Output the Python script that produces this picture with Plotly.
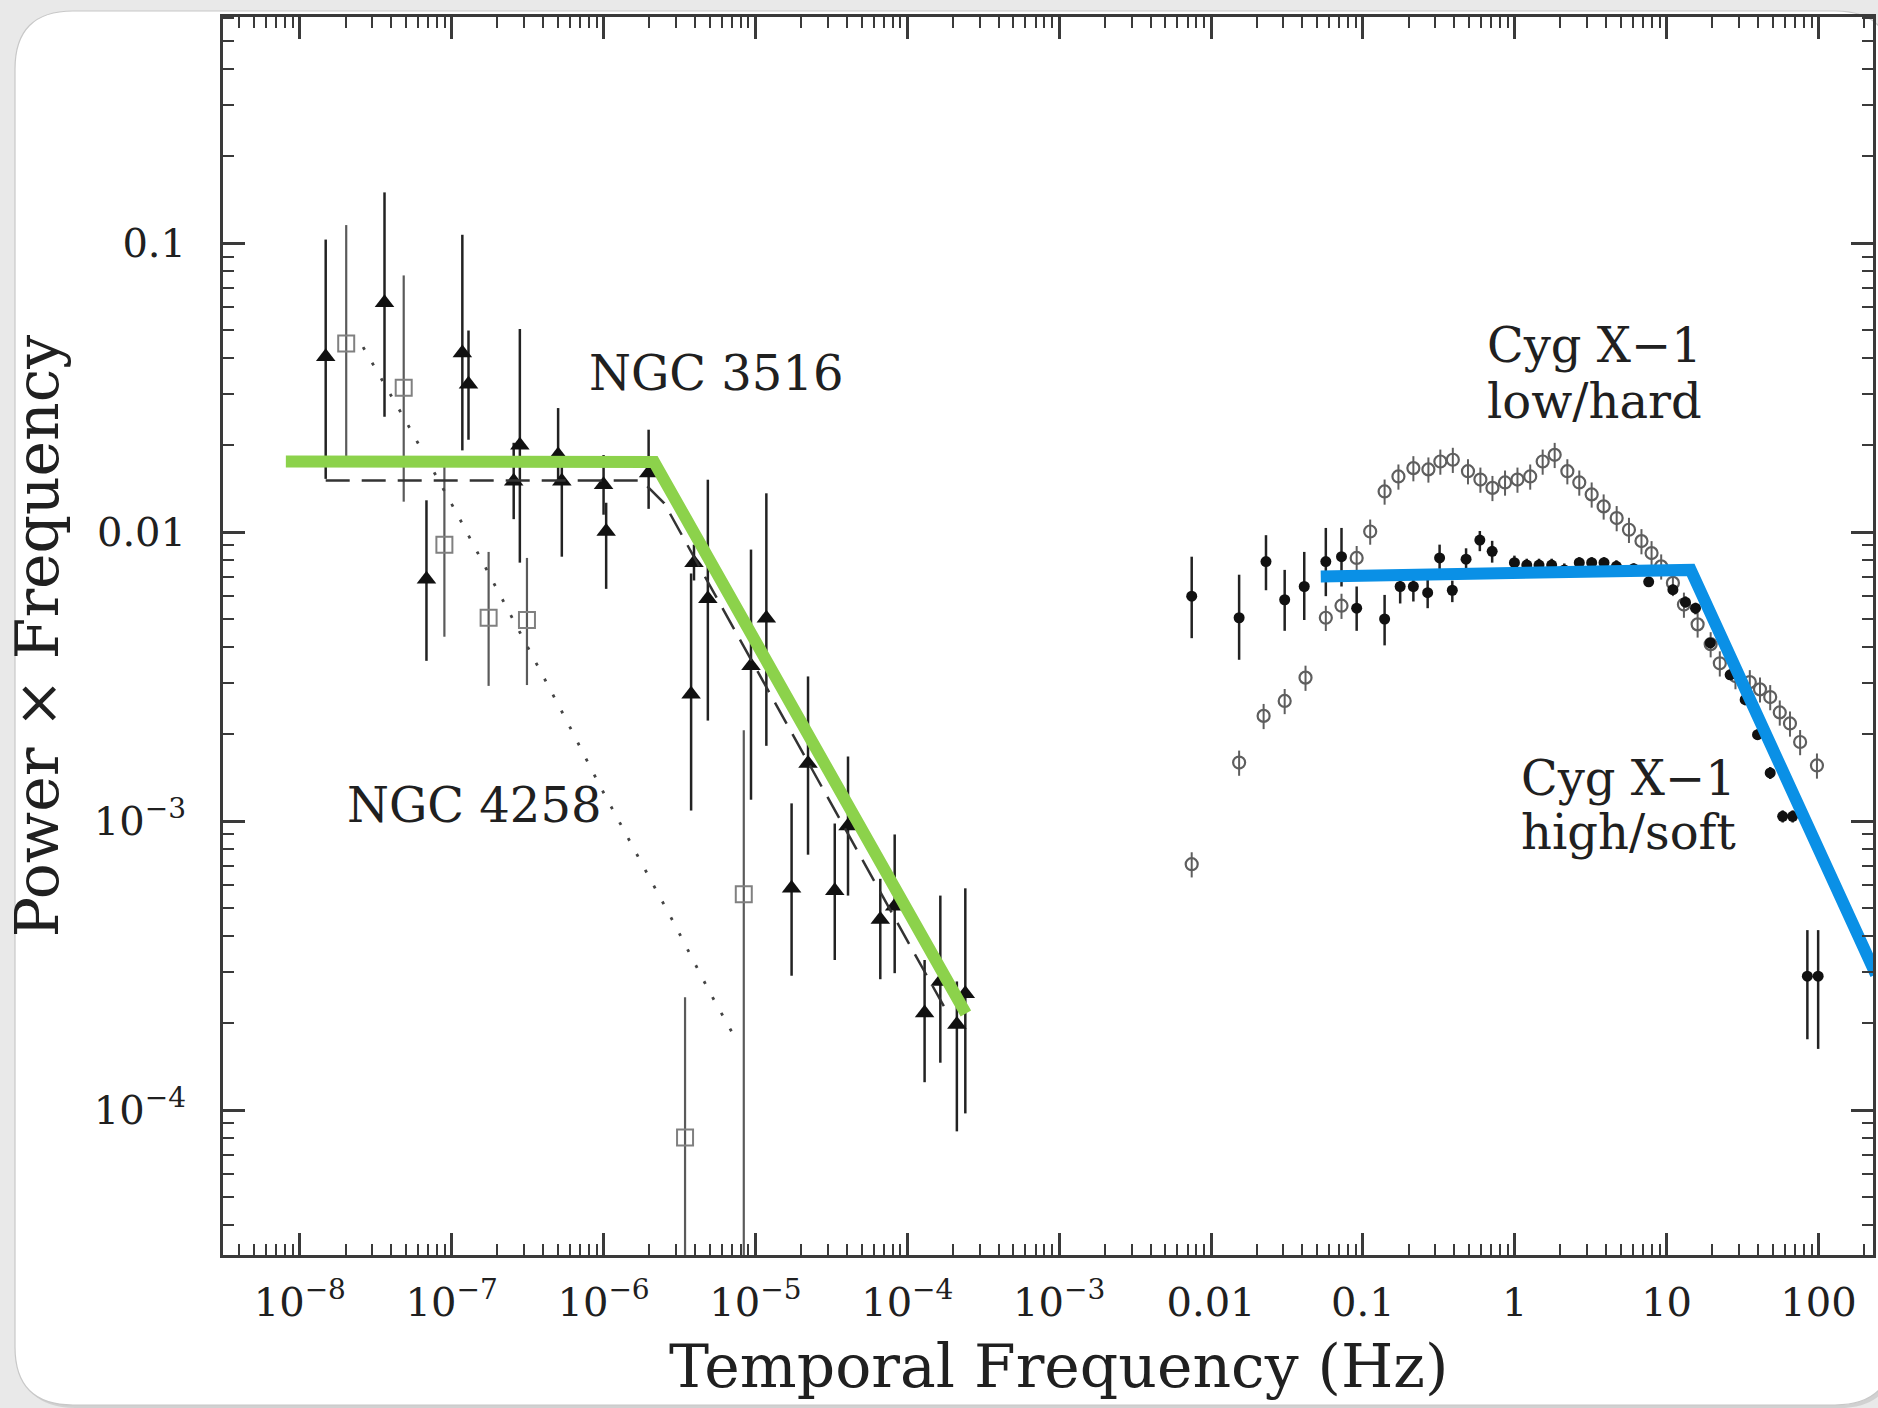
import numpy as np
import plotly.graph_objects as go

# ---------------- data ----------------
# NGC 3516 (filled triangles)
n3516_f = [1.48e-8, 3.61e-8, 6.82e-8, 1.175e-7, 1.29e-7, 2.56e-7, 2.81e-7, 5.02e-7, 5.31e-7,
           1.0e-6, 1.04e-6, 1.98e-6, 3.94e-6, 3.77e-6, 4.86e-6, 9.35e-6, 1.18e-5, 2.22e-5,
           1.73e-5, 3.33e-5, 4.07e-5, 6.64e-5, 8.26e-5, 1.30e-4, 1.65e-4, 2.12e-4, 2.41e-4]
n3516_p = [0.0405, 0.0622, 0.00687, 0.0417, 0.0325, 0.0150, 0.0200, 0.0185, 0.0150,
           0.01459, 0.01006, 0.01605, 0.00785, 0.002748, 0.00589, 0.003455, 0.00504, 0.001585,
           0.000586, 0.000575, 0.000963, 0.000457, 0.000508, 0.000217, 0.000279, 0.000198, 0.000253]
n3516_hi = [0.103, 0.150, 0.0129, 0.107, 0.0499, 0.0204, 0.0505, 0.0269, 0.0185,
            0.0185, 0.01265, 0.02264, 0.00906, 0.0072, 0.0152, 0.00871, 0.01364, 0.00317,
            0.001153, 0.000982, 0.001675, 0.000632, 0.0009, 0.000331, 0.000553, 0.000279, 0.000586]
n3516_lo = [0.0153, 0.0251, 0.00359, 0.0192, 0.0209, 0.0111, 0.00785, 0.0153, 0.00823,
            0.0115, 0.00637, 0.01205, 0.00681, 0.001089, 0.00223, 0.001187, 0.001824, 0.000766,
            0.000292, 0.000331, 0.000553, 0.000284, 0.000298, 0.000125, 0.000146, 8.45e-5, 9.75e-5]

# NGC 4258 (open squares)
n4258_f = [2.02e-8, 4.83e-8, 8.95e-8, 1.75e-7, 3.13e-7, 3.44e-6, 8.38e-6]
n4258_p = [0.045, 0.0316, 0.00906, 0.00506, 0.00497, 8.05e-5, 0.000559]
n4258_hi = [0.1156, 0.0774, 0.01799, 0.00855, 0.00815, 0.000246, 0.002065]
n4258_lo = [0.01782, 0.01276, 0.00435, 0.00294, 0.00296, 1e-6, 1e-6]

# model curves
model3516_f = [1.48e-8, 1.78e-6, 2.51e-6, 3.98e-6, 1.74e-4]
model3516_p = [0.0151, 0.0151, 0.0126, 0.00813, 0.000229]
model4258_f = [2.61e-8, 5.01e-8, 1.094e-7, 1.888e-7, 3.25e-7, 5.61e-7, 9.5e-7, 1.667e-6,
               2.93e-6, 4.96e-6, 7.2e-6]
model4258_p = [0.0437, 0.02415, 0.01148, 0.00667, 0.00391, 0.00227, 0.00132, 0.000767,
               0.000441, 0.000258, 0.0001815]

# overlaid broken power laws
green_f = [8.09e-9, 2.15e-6, 2.43e-4]
green_p = [0.01758, 0.0175, 0.000216]
blue_f = [0.0528, 14.4, 239.0]
blue_p = [0.00703, 0.00741, 0.000295]

# Cyg X-1 high/soft (filled circles)
hs_f = [0.00746, 0.01531, 0.02301, 0.03055, 0.0411, 0.0570, 0.0723, 0.0910, 0.139, 0.176,
        0.215, 0.267, 0.320, 0.388, 0.478, 0.589, 0.710, 0.995, 1.20, 1.445,
        1.75, 2.12, 2.66, 3.21, 3.87, 4.67, 6.07, 7.62, 11.0, 13.3,
        15.5, 19.4, 26.2, 32.9, 39.7, 48.1, 58.1, 67.6, 84.5, 99.5]
hs_p = [0.00601, 0.00506, 0.00792, 0.00584, 0.00649, 0.00792, 0.00823, 0.00546, 0.00501, 0.00649,
        0.00649, 0.00618, 0.00815, 0.0063, 0.00807, 0.0094, 0.00859, 0.00785, 0.0077, 0.0077,
        0.0077, 0.00741, 0.00785, 0.00785, 0.00785, 0.00762, 0.00748, 0.00674, 0.00633, 0.00573,
        0.00546, 0.00414, 0.00321, 0.002634, 0.001993, 0.001469, 0.00104, 0.00104, 0.000291, 0.000291]
hs_hi = [0.00823, 0.00713, 0.00977, 0.00741, 0.00855, 0.01035, 0.01035, 0.00649, 0.00607, 0.00741,
         0.00727, 0.0070, 0.00906, 0.0068, 0.0088, 0.0101, 0.00934, 0.0083, 0.0081, 0.0081,
         0.0081, 0.0078, 0.0082, 0.0082, 0.0082, 0.0080, 0.0078, 0.0070, 0.0066, 0.0060,
         0.0057, 0.0043, 0.00335, 0.00275, 0.00208, 0.00154, 0.00109, 0.00109, 0.00042, 0.00042]
hs_lo = [0.0043, 0.00362, 0.0063, 0.00456, 0.00497, 0.00601, 0.00649, 0.00456, 0.00406, 0.00567,
         0.00576, 0.00546, 0.00741, 0.00573, 0.00741, 0.0086, 0.00785, 0.0075, 0.0073, 0.0073,
         0.0073, 0.0071, 0.0075, 0.0075, 0.0075, 0.0073, 0.0072, 0.0065, 0.0061, 0.0055,
         0.0052, 0.0040, 0.0031, 0.00252, 0.00191, 0.00140, 0.00099, 0.00099, 0.000176, 0.000163]

# Cyg X-1 low/hard (open circles)
lh_f = [0.00746, 0.01531, 0.0222, 0.03055, 0.0419, 0.0570, 0.0723, 0.0910, 0.1117, 0.139,
        0.1714, 0.215, 0.270, 0.3236, 0.391, 0.492, 0.594, 0.713, 0.863, 1.042,
        1.264, 1.527, 1.832, 2.22, 2.66, 3.21, 3.85, 4.69, 5.65, 6.83,
        7.96, 9.21, 11.0, 13.0, 16.0, 19.5, 22.4, 28.4, 35.3, 41.2,
        48.1, 55.6, 64.9, 75.7, 97.7]
lh_p = [0.00071, 0.001596, 0.002315, 0.002608, 0.00314, 0.00506, 0.00557, 0.00815, 0.01006, 0.01384,
        0.0156, 0.01667, 0.0165, 0.01757, 0.01782, 0.01627, 0.01522, 0.01424, 0.01487, 0.01522,
        0.0156, 0.01757, 0.01853, 0.01627, 0.01487, 0.01352, 0.01229, 0.0112, 0.0102, 0.00932,
        0.00847, 0.00762, 0.00668, 0.00562, 0.0048, 0.0041, 0.00352, 0.00318, 0.00303, 0.00286,
        0.00269, 0.00238, 0.00218, 0.00188, 0.00156]

# axis ticks
x_tick_vals = [1e-8, 1e-7, 1e-6, 1e-5, 1e-4, 1e-3, 0.01, 0.1, 1, 10, 100]
x_tick_text = ["10<sup>\u22128</sup>", "10<sup>\u22127</sup>", "10<sup>\u22126</sup>",
               "10<sup>\u22125</sup>", "10<sup>\u22124</sup>", "10<sup>\u22123</sup>",
               "0.01", "0.1", "1", "10", "100"]
y_tick_vals = [1e-4, 1e-3, 0.01, 0.1]
y_tick_text = ["10<sup>\u22124</sup>", "10<sup>\u22123</sup>", "0.01", "0.1"]

# text labels (left edge, vertical centre)
labels = ["NGC 3516", "NGC 4258", "Cyg X\u22121", "low/hard", "Cyg X\u22121", "high/soft"]
label_f = [7.76e-7, 1.99e-8, 0.638, 0.638, 1.068, 1.068]
label_p = [0.0357, 0.00114, 0.0446, 0.02844, 0.00141, 0.000918]

x_title = "Temporal Frequency (Hz)"
y_title = "Power \u00d7 Frequency"

# ---------------- figure ----------------
W, H = 1878, 1408
L, R, T, B = 223, 1873, 17, 1255
X_RANGE = [-8.506, 2.359]
Y_RANGE = [-4.501, -0.217]
PAGE_BG = "#e9e9e9"

def px(x):
    return (x - L) / (R - L)

def py(y):
    return 1 - (y - T) / (B - T)

def rounded(x0, y0, x1, y1, r):
    pts = [("M", x0 + r, y0), ("L", x1 - r, y0), ("Q", x1, y0, x1, y0 + r),
           ("L", x1, y1 - r), ("Q", x1, y1, x1 - r, y1), ("L", x0 + r, y1),
           ("Q", x0, y1, x0, y1 - r), ("L", x0, y0 + r), ("Q", x0, y0, x0 + r, y0)]
    s = ""
    for p in pts:
        cmd = p[0]
        coords = p[1:]
        parts = []
        for i in range(0, len(coords), 2):
            parts.append(f"{px(coords[i]):.5f},{py(coords[i+1]):.5f}")
        s += cmd + " " + " ".join(parts) + " "
    return s + "Z"

def err(p, hi, lo):
    p = np.array(p); hi = np.array(hi); lo = np.array(lo)
    return hi - p, p - lo

fig = go.Figure()

AX = "#3a3a3a"
TXT = "#202020"

# NGC 4258 squares
up, dn = err(n4258_p, n4258_hi, n4258_lo)
fig.add_trace(go.Scatter(
    x=n4258_f, y=n4258_p, mode="markers",
    marker=dict(symbol="square-open", size=16, color="#808080", line=dict(width=2, color="#808080")),
    error_y=dict(type="data", array=up, arrayminus=dn, color="#5a5a5a", thickness=2.2, width=0),
))

# NGC 3516 triangles
up, dn = err(n3516_p, n3516_hi, n3516_lo)
fig.add_trace(go.Scatter(
    x=n3516_f, y=n3516_p, mode="markers",
    marker=dict(symbol="triangle-up", size=17, color="#111111"),
    error_y=dict(type="data", array=up, arrayminus=dn, color="#222222", thickness=2.5, width=0),
))

# model lines
fig.add_trace(go.Scatter(x=model3516_f, y=model3516_p, mode="lines",
                         line=dict(color="#333333", width=2.5, dash="24px,12px")))
fig.add_trace(go.Scatter(x=model4258_f, y=model4258_p, mode="lines",
                         line=dict(color="#444444", width=2.8, dash="3px,15px")))

# Cyg X-1 low/hard
fig.add_trace(go.Scatter(
    x=lh_f, y=lh_p, mode="markers",
    marker=dict(symbol="circle-open", size=12, color="#5e5e5e", line=dict(width=2.2, color="#5e5e5e")),
    error_y=dict(type="percent", value=10, color="#5e5e5e", thickness=2, width=0),
))

# Cyg X-1 high/soft
up, dn = err(hs_p, hs_hi, hs_lo)
fig.add_trace(go.Scatter(
    x=hs_f, y=hs_p, mode="markers",
    marker=dict(symbol="circle", size=11, color="#111111"),
    error_y=dict(type="data", array=up, arrayminus=dn, color="#222222", thickness=2.5, width=0),
))

# overlaid thick lines
fig.add_trace(go.Scatter(x=green_f, y=green_p, mode="lines",
                         line=dict(color="#8cd24b", width=12)))
fig.add_trace(go.Scatter(x=blue_f, y=blue_p, mode="lines",
                         line=dict(color="#0a90e6", width=12)))

# annotations
for t, f, p in zip(labels, label_f, label_p):
    fig.add_annotation(x=np.log10(f), y=np.log10(p), text=t, showarrow=False,
                       font=dict(size=48, color=TXT), align="left",
                       xanchor="left", yanchor="middle")

# x-axis title (placed as in the reference, slightly right of centre)
fig.add_annotation(x=px(1058), y=py(1366), xref="paper", yref="paper", text=x_title,
                   showarrow=False, font=dict(size=60, color=TXT),
                   xanchor="center", yanchor="middle")

# minor ticks
x_minor = [m * 10.0 ** e for e in range(-9, 3) for m in range(2, 10)
           if X_RANGE[0] < np.log10(m * 10.0 ** e) < X_RANGE[1]]
y_minor = [m * 10.0 ** e for e in range(-5, 0) for m in range(2, 10)
           if Y_RANGE[0] < np.log10(m * 10.0 ** e) < Y_RANGE[1]]

# card background
fig.add_shape(type="path", path=rounded(18, 14, 1896, 1408, 58), xref="paper", yref="paper",
              fillcolor="rgba(0,0,0,0.10)", line=dict(width=0), layer="below")
fig.add_shape(type="path", path=rounded(15, 11, 1893, 1405, 58), xref="paper", yref="paper",
              fillcolor="white", line=dict(width=1.2, color="#c8c8c8"), layer="below")

fig.update_layout(
    width=W, height=H, autosize=False,
    margin=dict(l=L, r=W - R, t=T, b=H - B, pad=0, autoexpand=False),
    paper_bgcolor=PAGE_BG, plot_bgcolor="rgba(0,0,0,0)",
    showlegend=False,
    font=dict(family="DejaVu Serif", color=TXT),
    xaxis=dict(
        type="log", range=X_RANGE, showgrid=False, zeroline=False, automargin=False,
        showline=True, linecolor=AX, linewidth=3, mirror="allticks",
        ticks="inside", ticklen=22, tickwidth=2.5, tickcolor=AX,
        tickmode="array", tickvals=x_tick_vals, ticktext=x_tick_text,
        tickfont=dict(size=40, color=TXT), ticklabelstandoff=10,
        minor=dict(tickmode="array", tickvals=x_minor, ticks="inside", ticklen=11,
                   tickwidth=2, tickcolor=AX, showgrid=False),
    ),
    yaxis=dict(
        type="log", range=Y_RANGE, showgrid=False, zeroline=False, automargin=False,
        showline=True, linecolor=AX, linewidth=3, mirror="allticks",
        ticks="inside", ticklen=22, tickwidth=2.5, tickcolor=AX,
        tickmode="array", tickvals=y_tick_vals, ticktext=y_tick_text,
        tickfont=dict(size=40, color=TXT), ticklabelstandoff=26,
        minor=dict(tickmode="array", tickvals=y_minor, ticks="inside", ticklen=11,
                   tickwidth=2, tickcolor=AX, showgrid=False),
        title=dict(text=y_title, font=dict(size=60, color=TXT), standoff=16),
    ),
)

fig.write_html(
    "out.html",
    config={"displayModeBar": False},
    post_script=("document.body.style.margin='0px';"
                 "document.body.style.background='" + PAGE_BG + "';"
                 "document.body.style.overflow='hidden';"),
)
